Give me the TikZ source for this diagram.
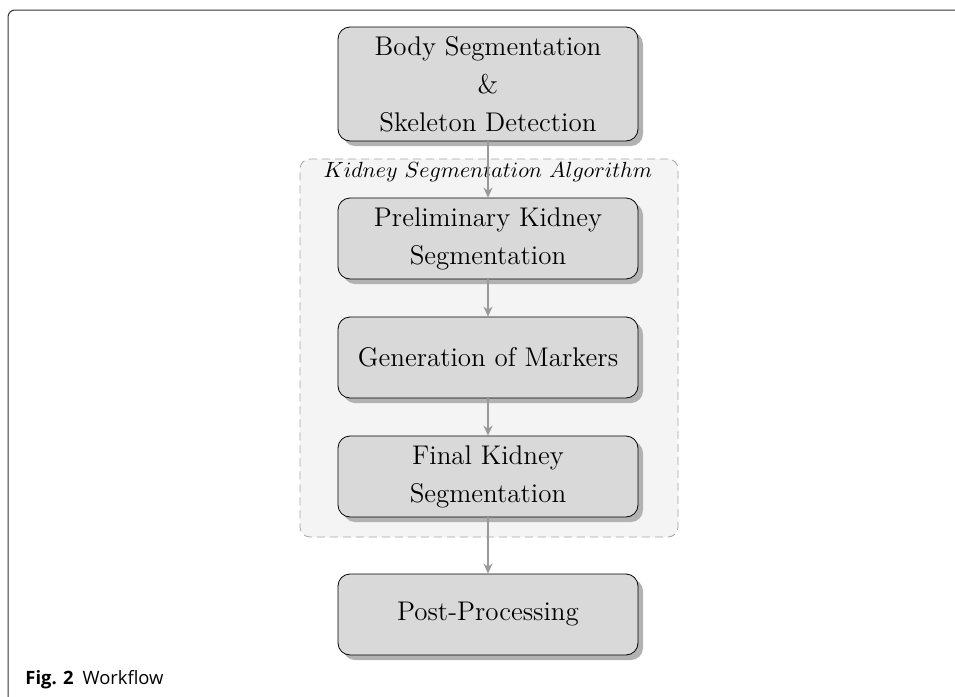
\documentclass[tikz,border=0pt]{standalone}
\usepackage{fontspec}
\newfontfamily\capfont{Open Sans}
\usepackage{tikz}
\usetikzlibrary{positioning,shapes,arrows.meta,shadows}
\pgfdeclarelayer{bg}
\pgfsetlayers{bg,main}
\definecolor{boxfill}{HTML}{D9D9D9}
\definecolor{groupfill}{HTML}{F4F4F4}
\definecolor{groupline}{HTML}{A6A6A6}
\definecolor{flowline}{HTML}{999999}

\begin{document}
\begin{tikzpicture}[
x=0.5pt, y=-0.5pt,
stepbox/.style={rectangle, rounded corners=6pt, draw=black, thin, fill=boxfill, minimum width=150pt, minimum height=40.5pt, align=center, font=\fontsize{13.5}{19}\selectfont, drop shadow={shadow xshift=2.5pt, shadow yshift=-2.5pt, fill=black!30, opacity=1}},
groupbox/.style={rectangle, rounded corners=5pt, draw=groupline, fill=groupfill, dash pattern=on 4pt off 2.5pt, minimum width=189pt, minimum height=189pt},
grouplabel/.style={inner sep=0pt, font=\fontsize{10.7}{13}\selectfont},
flow/.style={draw=flowline, line width=1pt, -{Stealth[length=5pt, width=4.5pt]}},
]
\useasboundingbox (0,0) rectangle (955,697);
\clip (0,0) rectangle (955,697);

% outer frame of the figure
\draw[black!80, line width=0.5pt, rounded corners=3.5pt] (8,10) rectangle (990,730);

\begin{pgfonlayer}{bg}
	\node[groupbox] (algo) at (489,348) {};
\end{pgfonlayer}
\node[grouplabel, anchor=base] (algolabel) at (488,177) {$Kidney\ Segmentation\ Algorithm$};

\node[stepbox, minimum height=57pt] (body) at (488,84) {Body Segmentation\\ \&\\ Skeleton Detection};
\node[stepbox] (prelim) at (488,238.5) {Preliminary Kidney\\ Segmentation};
\node[stepbox] (markers) at (488,357.5) {Generation of Markers};
\node[stepbox] (final) at (488,476.5) {Final Kidney\\ Segmentation};
\node[stepbox] (post) at (488,614.5) {Post-Processing};

\draw[flow] (body) -- (prelim);
\draw[flow] (prelim) -- (markers);
\draw[flow] (markers) -- (final);
\draw[flow] (final) -- (post);

\node[anchor=base west, inner sep=0pt, font=\capfont\fontsize{9.2}{11}\selectfont] (caption) at (25,684) {\textbf{Fig. 2}\hspace{4.5pt}Workflow};
\end{tikzpicture}
\end{document}
